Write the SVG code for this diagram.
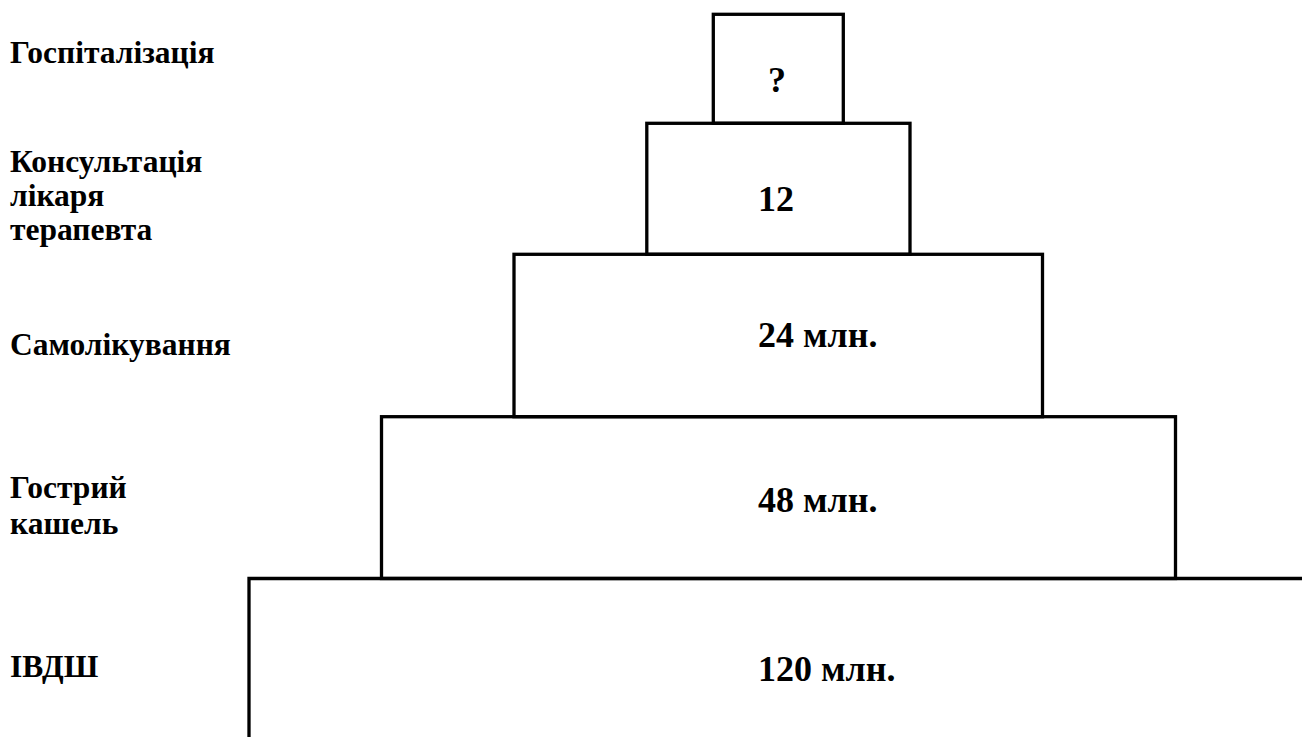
<svg xmlns="http://www.w3.org/2000/svg" width="1302" height="737" viewBox="0 0 1302 737">
<style>
.box{fill:none;stroke:#000;stroke-width:3.3}
text{font-family:"Liberation Serif","DejaVu Serif",serif;font-weight:bold;fill:#000}
.lbl{font-size:31.5px}
.val{font-size:36px}
</style>
<rect width="1302" height="737" fill="#fff"/>
<g id="labels">
<text class="lbl" x="10" y="63">Госпіталізація</text>
<text class="lbl" x="10" y="172">Консультація</text>
<text class="lbl" x="10" y="206">лікаря</text>
<text class="lbl" x="10" y="240">терапевта</text>
<text class="lbl" x="10" y="355">Самолікування</text>
<text class="lbl" x="10" y="498">Гострий</text>
<text class="lbl" x="10" y="534">кашель</text>
<text class="lbl" x="10" y="677">ІВДШ</text>
</g>
<g id="level5">
<rect class="box" x="713.3" y="14.3" width="130" height="109"/>
<text class="val" x="768" y="92">?</text>
</g>
<g id="level4">
<rect class="box" x="646.8" y="123.3" width="263.2" height="131"/>
<text class="val" x="758" y="211">12</text>
</g>
<g id="level3">
<rect class="box" x="514" y="254.3" width="528.5" height="162.4"/>
<text class="val" x="758" y="347">24 млн.</text>
</g>
<g id="level2">
<rect class="box" x="381.5" y="416.7" width="794" height="161.8"/>
<text class="val" x="758" y="512">48 млн.</text>
</g>
<g id="level1">
<path class="box" d="M1302 578.5 H249 V737"/>
<text class="val" x="758" y="681">120 млн.</text>
</g>
</svg>
